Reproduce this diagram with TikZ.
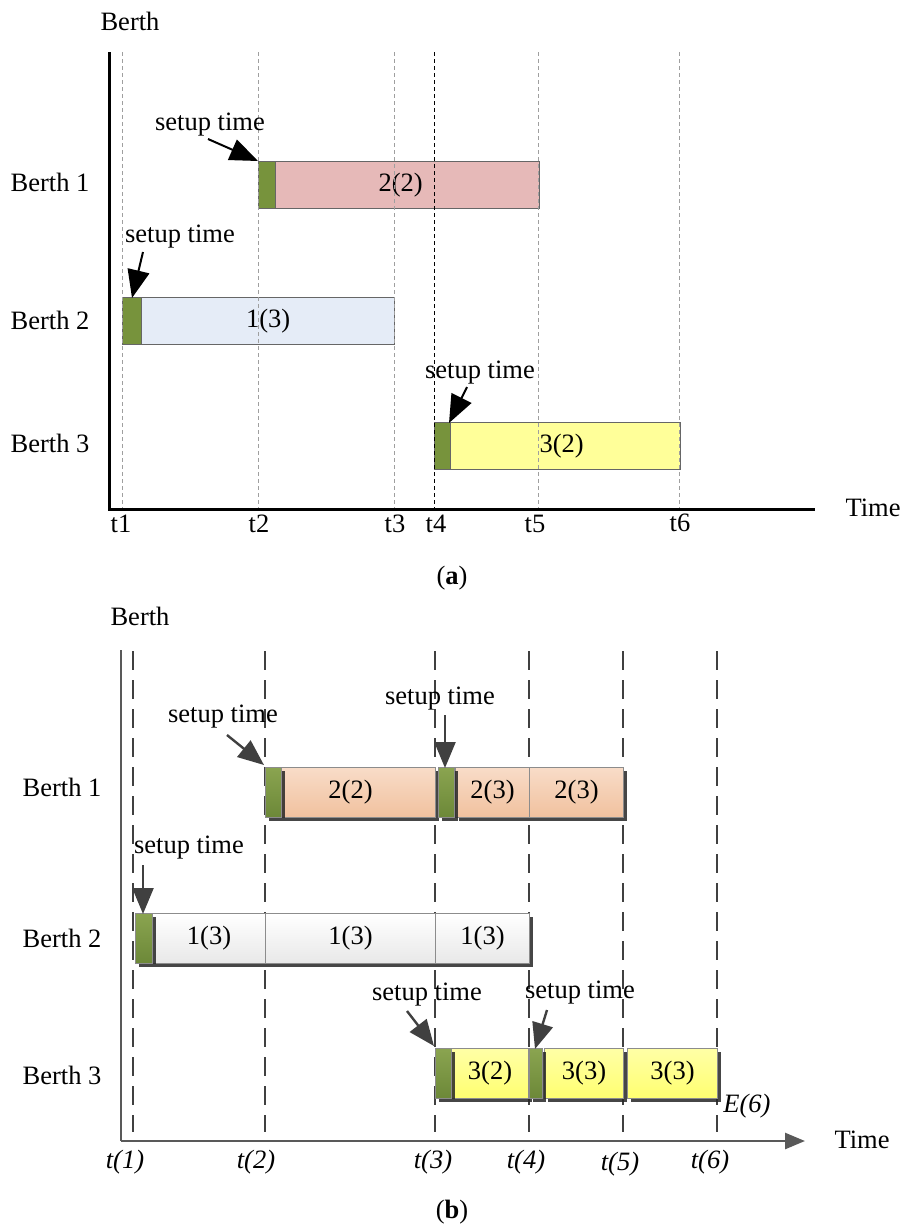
\documentclass[tikz,border=0pt]{standalone}
\usepackage{fontspec}
\setmainfont{Liberation Serif}
\usetikzlibrary{arrows.meta,shadows}
\definecolor{agreen}{HTML}{77933C}
\definecolor{apink}{HTML}{E6B9B8}
\definecolor{ablue}{HTML}{E5ECF7}
\definecolor{ayellow}{HTML}{FFFF99}
\definecolor{bgray}{HTML}{404040}
\definecolor{baxis}{HTML}{595959}
\definecolor{ortop}{HTML}{F8DCC8}
\definecolor{orbot}{HTML}{F1C19E}
\definecolor{yetop}{HTML}{FFFFA6}
\definecolor{yebot}{HTML}{FFFF70}
\definecolor{grtop}{HTML}{8AA450}
\definecolor{grbot}{HTML}{6C8838}
\begin{document}
\begin{tikzpicture}[x=1pt,y=-1pt,
  every node/.style={font=\fontsize{26.5}{30}\selectfont, inner sep=0pt},
  tlab/.style={font=\fontsize{26.5}{30}\selectfont\itshape},
  adash/.style={gray!75, line width=0.9pt, dash pattern=on 4pt off 3pt},
  adashk/.style={black, line width=0.9pt, dash pattern=on 4pt off 3pt},
  abar/.style={draw=black!60, line width=1.3pt, anchor=north west, minimum height=47pt},
  agbar/.style={abar, fill=agreen, draw=black!60},
  aarr/.style={-{Triangle[length=28pt,width=22pt]}, line width=2pt, black},
  bdash/.style={draw=bgray, line width=2.4pt, dash pattern=on 19pt off 10pt},
  bbar/.style={draw=black!45, line width=1pt, anchor=north west, minimum height=50pt,
    drop shadow={shadow xshift=3pt, shadow yshift=-3pt, opacity=0.85, fill=black!85}},
  bgreen/.style={bbar, top color=grtop, bottom color=grbot},
  borange/.style={bbar, top color=ortop, bottom color=orbot},
  bwhite/.style={bbar, top color=white, bottom color=black!9},
  byellow/.style={bbar, top color=yetop, bottom color=yebot},
  barr/.style={-{Triangle[length=26pt,width=21pt]}, line width=2.4pt, bgray}]
\useasboundingbox (0,0) rectangle (904,1229);

% ================= (a) =================
\node (aBerth) at (130,21) {Berth};
\coordinate (aO) at (109,509);
\coordinate (aTop) at (109,52);
\coordinate (aEnd) at (815,509);
\node (aTime) at (873,508) {Time};

\node (aB1) at (50,182) {Berth 1};
\node (aB2) at (50,320) {Berth 2};
\node (aB3) at (50,443) {Berth 3};

% bars
\node[abar, fill=apink, minimum width=264pt] (a22) at (275,161) {\hspace*{-14pt}2(2)};
\node[agbar, minimum width=17pt] (ag1) at (258,161) {};
\node[abar, fill=ablue, minimum width=253pt] (a13) at (141,297) {1(3)};
\node[agbar, minimum width=19pt] (ag2) at (122,297) {};
\node[abar, fill=ayellow, minimum width=230pt] (a32) at (450,422) {\hspace*{-8pt}3(2)};
\node[agbar, minimum width=16pt] (ag3) at (434,422) {};

% dashed time lines
\foreach \x/\n in {122/1,258/2,394/3,538/5,679/6}
  \draw[adash] (\x,52) -- (\x,509);
\draw[adashk] (434,52) -- (434,509);

\draw[line width=3pt] (aTop) -- (aO) -- (aEnd);

\node (at1) at (121,524) {t1};
\node (at2) at (259,524) {t2};
\node (at3) at (395,524) {t3};
\node (at4) at (436,524) {t4};
\node (at5) at (535,524) {t5};
\node (at6) at (680,523) {t6};

% setup labels (a)
\node (as1) at (210,125) {setup time};
\node (as2) at (180,237) {setup time};
\node (as3) at (480,373) {setup time};
\coordinate (as1s) at (208,139);
\coordinate (as2s) at (143,252);
\coordinate (as3s) at (467,387);
\draw[aarr] (as1s) -- (ag1.north west);
\draw[aarr] (as2s) -- ([xshift=10pt,yshift=-1pt]ag2.north west);
\draw[aarr] (as3s) -- ([xshift=15pt,yshift=-1pt]ag3.north west);

\node (acap) at (452,578) {(\textbf{a})};

% ================= (b) =================
\node (bBerth) at (140,616) {Berth};
\coordinate (bO) at (121,1141);
\coordinate (bTop) at (121,650);
\coordinate (bEnd) at (805,1141);
\node (bTime) at (862,1140) {Time};

\node (bB1) at (62,787) {Berth 1};
\node (bB2) at (62,938) {Berth 2};
\node (bB3) at (62,1075) {Berth 3};

% dashed lines first
\foreach \x in {133,265,435,529,623,717}
  \draw[bdash] (\x,651) -- (\x,1132);

% Berth 1
\node[borange, minimum width=154pt] (b22) at (281,767) {\hspace*{-16pt}2(2)};
\node[bgreen, minimum width=16pt] (bg1) at (265,767) {};
\node[borange, minimum width=74pt] (b23a) at (455,767) {2(3)};
\node[borange, minimum width=94pt] (b23b) at (529,767) {2(3)};
\node[bgreen, minimum width=16pt] (bg2) at (438,767) {};

% Berth 2
\node[bwhite, minimum width=113pt] (b13a) at (152,913) {1(3)};
\node[bwhite, minimum width=170pt] (b13b) at (265,913) {1(3)};
\node[bwhite, minimum width=94pt] (b13c) at (435,913) {1(3)};
\node[bgreen, minimum width=17pt] (bg3) at (135,913) {};

% Berth 3
\node[byellow, minimum width=77pt] (b32) at (451,1048) {3(2)};
\node[bgreen, minimum width=16pt] (bg4) at (435,1048) {};
\node[byellow, minimum width=79pt] (b33a) at (544,1048) {3(3)};
\node[bgreen, minimum width=13pt] (bg5) at (529,1048) {};
\node[byellow, minimum width=90pt] (b33b) at (627,1048) {3(3)};
\node[tlab] (bE6) at (747,1106) {E(6)};

% axes
\draw[baxis, line width=2.6pt] (bTop) -- (bO);
\draw[baxis, line width=2.6pt, -{Triangle[length=20pt,width=16pt]}] (bO) -- (bEnd);

\node[tlab] (bt1) at (125,1162) {t(1)};
\node[tlab] (bt2) at (256,1162) {t(2)};
\node[tlab] (bt3) at (433,1162) {t(3)};
\node[tlab] (bt4) at (526,1162) {t(4)};
\node[tlab] (bt5) at (620,1164) {t(5)};
\node[tlab] (bt6) at (710,1162) {t(6)};

% setup labels (b)
\node (bs1) at (223,717) {setup time};
\node (bs2) at (440,699) {setup time};
\node (bs3) at (189,848) {setup time};
\node (bs4) at (427,995) {setup time};
\node (bs5) at (580,993) {setup time};
\coordinate (bs1s) at (227,735);
\coordinate (bs2s) at (445,715);
\coordinate (bs3s) at (143,865);
\coordinate (bs4s) at (407,1011);
\coordinate (bs5s) at (547,1010);
\draw[barr] (bs1s) -- ([xshift=-1pt,yshift=2pt]bg1.north west);
\draw[barr] (bs2s) -- ([xshift=7pt,yshift=-1pt]bg2.north west);
\draw[barr] (bs3s) -- ([xshift=8pt,yshift=-1pt]bg3.north west);
\draw[barr] (bs4s) -- ([xshift=-1pt,yshift=2pt]bg4.north west);
\draw[barr] (bs5s) -- ([xshift=6pt,yshift=-1pt]bg5.north west);

\node (bcap) at (452,1212) {(\textbf{b})};
\end{tikzpicture}
\end{document}
